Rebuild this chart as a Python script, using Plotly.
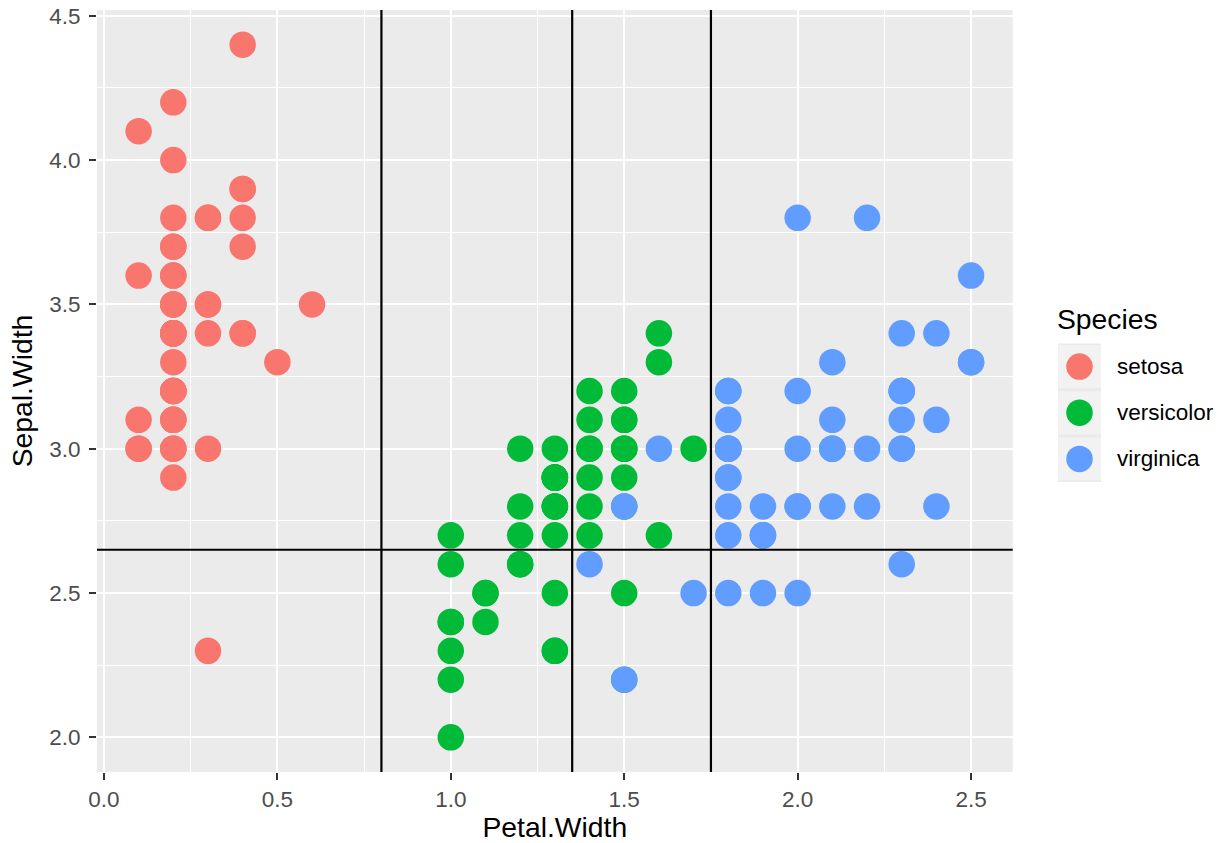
import plotly.graph_objects as go

species = ["setosa", "versicolor", "virginica"]
colors = ["#F8766D", "#00BA38", "#619CFF"]

setosa_petal_width = [0.2,0.2,0.2,0.2,0.2,0.4,0.3,0.2,0.2,0.1,0.2,0.2,0.1,0.1,0.2,0.4,0.4,0.3,0.3,0.3,
                      0.2,0.4,0.2,0.5,0.2,0.2,0.4,0.2,0.2,0.2,0.2,0.4,0.1,0.2,0.2,0.2,0.2,0.1,0.2,0.2,
                      0.3,0.3,0.2,0.6,0.4,0.3,0.2,0.2,0.2,0.2]
setosa_sepal_width = [3.5,3.0,3.2,3.1,3.6,3.9,3.4,3.4,2.9,3.1,3.7,3.4,3.0,3.0,4.0,4.4,3.9,3.5,3.8,3.8,
                      3.4,3.7,3.6,3.3,3.4,3.0,3.4,3.5,3.4,3.2,3.1,3.4,4.1,4.2,3.1,3.2,3.5,3.6,3.0,3.4,
                      3.5,2.3,3.2,3.5,3.8,3.0,3.8,3.2,3.7,3.3]
versicolor_petal_width = [1.4,1.5,1.5,1.3,1.5,1.3,1.6,1.0,1.3,1.4,1.0,1.5,1.0,1.4,1.3,1.4,1.5,1.0,1.5,1.1,
                          1.8,1.3,1.5,1.2,1.3,1.4,1.4,1.7,1.5,1.0,1.1,1.0,1.2,1.6,1.5,1.6,1.5,1.3,1.3,1.3,
                          1.2,1.4,1.2,1.0,1.3,1.2,1.3,1.3,1.1,1.3]
versicolor_sepal_width = [3.2,3.2,3.1,2.3,2.8,2.8,3.3,2.4,2.9,2.7,2.0,3.0,2.2,2.9,2.9,3.1,3.0,2.7,2.2,2.5,
                          3.2,2.8,2.5,2.8,2.9,3.0,2.8,3.0,2.9,2.6,2.4,2.4,2.7,2.7,3.0,3.4,3.1,2.3,3.0,2.5,
                          2.6,3.0,2.6,2.3,2.7,3.0,2.9,2.9,2.5,2.8]
virginica_petal_width = [2.5,1.9,2.1,1.8,2.2,2.1,1.7,1.8,1.8,2.5,2.0,1.9,2.1,2.0,2.4,2.3,1.8,2.2,2.3,1.5,
                         2.3,2.0,2.0,1.8,2.1,1.8,1.8,1.8,2.1,1.6,1.9,2.0,2.2,1.5,1.4,2.3,2.4,1.8,1.8,2.1,
                         2.4,2.3,1.9,2.3,2.5,2.3,1.9,2.0,2.3,1.8]
virginica_sepal_width = [3.3,2.7,3.0,2.9,3.0,3.0,2.5,2.9,2.5,3.6,3.2,2.7,3.0,2.5,2.8,3.2,3.0,3.8,2.6,2.2,
                         3.2,2.8,2.8,2.7,3.3,3.2,2.8,3.0,2.8,3.0,2.8,3.8,2.8,2.8,2.6,3.0,3.4,3.1,3.0,3.1,
                         3.1,3.1,2.7,3.2,3.3,3.0,2.5,3.0,3.4,3.0]

petal_width = [setosa_petal_width, versicolor_petal_width, virginica_petal_width]
sepal_width = [setosa_sepal_width, versicolor_sepal_width, virginica_sepal_width]

vertical_splits = [0.8, 1.35, 1.75]
horizontal_splits = [2.65]

x_ticks = [0.0, 0.5, 1.0, 1.5, 2.0, 2.5]
y_ticks = [2.0, 2.5, 3.0, 3.5, 4.0, 4.5]

FONT = "Liberation Sans, Arial, sans-serif"
TICK_SIZE = 22.5
TITLE_SIZE = 28.3

# geometry (px)
W, H = 1228, 843
ML, MR, MT, MB = 97, 10, 10, 70.5
plot_w = W - ML - MR
plot_h = H - MT - MB
panel_right = 1012.7

def px_x(px):
    return (px - ML) / plot_w

def px_y(py):
    return (H - MB - py) / plot_h

# legend key geometry
KEY_TOP, KEY_PITCH = 343.7, 46.2
key_centers = [KEY_TOP + KEY_PITCH * (i + 0.5) for i in range(len(species))]

fig = go.Figure()

for name, col, xs, ys in zip(species, colors, petal_width, sepal_width):
    fig.add_trace(go.Scatter(
        x=xs, y=ys, mode="markers", name=name,
        marker=dict(color=col, size=26.5, line=dict(width=0)),
        showlegend=False, xaxis="x", yaxis="y",
    ))

# manual ggplot-style legend on an auxiliary axis pair
fig.add_trace(go.Scatter(
    x=[0.5] * len(species), y=list(range(len(species))), mode="markers",
    marker=dict(color=colors, size=26.5, line=dict(width=0)),
    xaxis="x2", yaxis="y2", showlegend=False, hoverinfo="skip",
))

shapes = []
for v in vertical_splits:
    shapes.append(dict(type="line", xref="x", yref="y domain", x0=v, x1=v, y0=0, y1=1,
                       line=dict(color="black", width=2.2), layer="above"))
for h in horizontal_splits:
    shapes.append(dict(type="line", xref="x domain", yref="y", x0=0, x1=1, y0=h, y1=h,
                       line=dict(color="black", width=2.2), layer="above"))
for i in range(len(species)):
    shapes.append(dict(type="rect", xref="x2", yref="y2", x0=0, x1=1, y0=i - 0.465, y1=i + 0.465,
                       fillcolor="#F2F2F2", line=dict(width=0), layer="below"))

annotations = [dict(text="Species", xref="paper", yref="paper", x=px_x(1055), y=px_y(301),
                    xanchor="left", yanchor="top", showarrow=False,
                    font=dict(family=FONT, size=TITLE_SIZE, color="black"))]
for name, cy in zip(species, key_centers):
    annotations.append(dict(text=name, xref="paper", yref="paper", x=px_x(1115), y=px_y(cy),
                            xanchor="left", yanchor="middle", showarrow=False,
                            font=dict(family=FONT, size=TICK_SIZE, color="black")))

axis_common = dict(
    showline=False, zeroline=False, automargin=False,
    gridcolor="white", gridwidth=2.2,
    ticks="outside", ticklen=7, tickwidth=2.2, tickcolor="#333333",
    tickfont=dict(family=FONT, size=TICK_SIZE, color="#4D4D4D"),
    tickformat=".1f",
)

fig.update_layout(
    width=W, height=H,
    margin=dict(l=ML, r=MR, t=MT, b=MB, pad=0),
    paper_bgcolor="white", plot_bgcolor="#EBEBEB",
    font=dict(family=FONT),
    xaxis=dict(**axis_common, domain=[0, px_x(panel_right)], range=[-0.02, 2.62],
               tickvals=x_ticks, ticklabelstandoff=0,
               minor=dict(dtick=0.25, tick0=0, showgrid=True, gridcolor="white", gridwidth=1.1, ticks=""),
               title=dict(text="Petal.Width", font=dict(family=FONT, size=TITLE_SIZE, color="black"),
                          standoff=8)),
    yaxis=dict(**axis_common, domain=[0, 1], range=[1.88, 4.52],
               tickvals=y_ticks, ticklabelstandoff=4,
               minor=dict(dtick=0.25, tick0=0, showgrid=True, gridcolor="white", gridwidth=1.1, ticks=""),
               title=dict(text="Sepal.Width", font=dict(family=FONT, size=TITLE_SIZE, color="black"),
                          standoff=8)),
    xaxis2=dict(domain=[px_x(1058), px_x(1101)], range=[0, 1], visible=False, anchor="y2",
                fixedrange=True, automargin=False),
    yaxis2=dict(domain=[px_y(KEY_TOP + KEY_PITCH * len(species)), px_y(KEY_TOP)],
                range=[len(species) - 0.5, -0.5], visible=False, anchor="x2",
                fixedrange=True, automargin=False),
    shapes=shapes,
    annotations=annotations,
    showlegend=False,
)

fig.write_html("out.html", post_script="document.body.style.margin='0';",
               config={"displayModeBar": False})
